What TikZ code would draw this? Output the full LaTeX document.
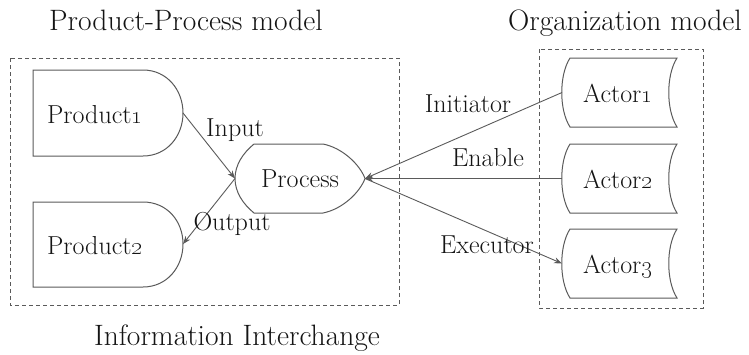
\documentclass[tikz,border=0pt]{standalone}
\usetikzlibrary{arrows.meta}
\definecolor{linegray}{RGB}{90,90,90}
\definecolor{txt}{RGB}{20,20,20}
\tikzset{
  lbl/.style={inner sep=0pt, anchor=base, text=txt, font=\fontsize{26}{30}\selectfont},
  ttl/.style={inner sep=0pt, anchor=base, text=txt, font=\fontsize{29.5}{34}\selectfont},
  shapeline/.style={draw=linegray, line width=1pt, fill=white},
  groupbox/.style={draw=linegray, line width=0.9pt, dash pattern=on 4pt off 3pt},
  conn/.style={draw=linegray, line width=0.9pt, -{Stealth[length=8pt,width=6pt]}},
}
\newcommand{\osn}[1]{\oldstylenums{#1}}
\begin{document}
\begin{tikzpicture}[x=1pt,y=-1pt]
\useasboundingbox (0,0) rectangle (749,354);

% group boxes
\draw[groupbox] (10,58) rectangle (399,305);
\draw[groupbox] (539,49) rectangle (703,308);

% titles
\node[ttl] (t1) at (186,30) {Product-Process model};
\node[ttl] (t2) at (625,30) {Organization model};
\node[ttl] (t3) at (237,345) {Information Interchange};

% Product1
\draw[shapeline] (33,70) -- (143,70) .. controls (167,70) and (183,90) .. (183,113)
  .. controls (183,136) and (167,156) .. (143,156) -- (33,156) -- cycle;
\coordinate (p1r) at (183,113);
\node[lbl] (p1) at (95,123) {Product\osn{1}};

% Product2
\draw[shapeline] (33,202) -- (143,202) .. controls (167,202) and (183,221) .. (183,244)
  .. controls (183,267) and (167,287) .. (143,287) -- (33,287) -- cycle;
\coordinate (p2r) at (183,244);
\node[lbl] (p2) at (95,254) {Product\osn{2}};

% Process
\draw[shapeline] (254,144) -- (323,144) .. controls (343,148) and (360,165) .. (365,178.5)
  .. controls (360,192) and (343,209) .. (323,213) -- (254,213)
  .. controls (243,204) and (235,192) .. (235,178.5)
  .. controls (235,165) and (243,153) .. (254,144) -- cycle;
\coordinate (prl) at (235,178.5);
\coordinate (prr) at (365,178.5);
\node[lbl] (pr) at (300,187) {Process};

% Actors
\foreach \n/\yt in {1/58,2/144,3/229}{
  \draw[shapeline] (570,\yt) -- (677,\yt) .. controls (666,\yt+17) and (666,\yt+52) .. (677,\yt+69)
    -- (570,\yt+69) .. controls (559,\yt+52) and (559,\yt+17) .. (570,\yt) -- cycle;
  \coordinate (a\n l) at (562,\yt+34.5);
  \node[lbl] (a\n) at (618,\yt+44) {Actor\osn{\n}};
}

% connectors
\draw[conn] (p1r) -- (prl);
\draw[conn] (prl) -- (p2r);
\draw[conn] (a1l) -- (prr);
\draw[conn] (a2l) -- (prr);
\draw[conn] (prr) -- (a3l);

% connector labels
\node[lbl] (lin) at (235,136) {Input};
\node[lbl] (lout) at (232,230) {Output};
\node[lbl] (lini) at (468,112) {Initiator};
\node[lbl] (len) at (488,166) {Enable};
\node[lbl] (lex) at (487,253) {Executor};
\end{tikzpicture}
\end{document}
